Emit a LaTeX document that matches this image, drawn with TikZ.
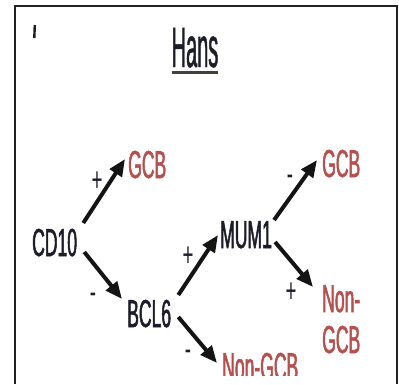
\documentclass[tikz,border=0pt]{standalone}
\usepackage{fontspec}
\usetikzlibrary{arrows.meta}
\newfontfamily\narrowf[FakeStretch=0.45,FakeBold=1.3]{Liberation Sans}
\newfontfamily\hansf[FakeStretch=0.35,FakeBold=0.8]{Liberation Sans}
\newfontfamily\signf[FakeStretch=0.55]{Liberation Sans}
\definecolor{txt}{HTML}{1C1C2A}
\definecolor{redt}{HTML}{B5504E}
\definecolor{framec}{HTML}{222222}
\begin{document}
\begin{tikzpicture}[x=1pt,y=-1pt,
  lbl/.style={inner sep=0, font=\narrowf\fontsize{39}{41}\selectfont, text=txt},
  res/.style={lbl, text=redt},
  sgn/.style={inner sep=0, font=\signf\fontsize{34}{36}\selectfont, text=txt},
  arr/.style={line width=4pt, draw=black!92, -{Triangle[length=17pt,width=14pt]}},
  frame/.style={line width=2pt, draw=framec}]
\useasboundingbox (0,0) rectangle (399,384);
% frame
\draw[frame] (15,384) -- (15,6) -- (397,6) -- (397,384);
% small fragment mark
\draw[line width=2.4pt, draw=txt] (34.8,25) -- (34.3,38);
% title
\node[inner sep=0, font=\hansf\fontsize{57}{60}\selectfont, text=txt, anchor=base] (hans) at (195,67) {Hans};
\draw[line width=3pt, draw=black!75] ([shift={(0,5.5)}]hans.base west) -- ([shift={(0,5.5)}]hans.base east);
% nodes
\node[lbl, anchor=base west] (cd10) at (32,256) {CD10};
\node[res, anchor=base west] (gcba) at (128,178) {GCB};
\node[lbl, anchor=base west] (bcl6) at (127,327) {BCL6};
\node[lbl, anchor=base west] (mum1) at (220,248) {MUM1};
\node[res, anchor=base west] (gcbb) at (322,177) {GCB};
\node[res, anchor=base west] (ngb) at (322,312) {\begin{tabular}[t]{@{}l@{}}Non-\\GCB\end{tabular}};
\begin{scope}
\clip (0,0) rectangle (399,375);
\node[res, anchor=base west] (nga) at (222,380) {Non-GCB};
\end{scope}
% arrows
\draw[arr] ([shift={(6,-33)}]cd10.base east) -- ([shift={(-3,-19)}]gcba.base west);
\draw[arr] ([shift={(7,-4)}]cd10.base east) -- ([shift={(-5,-28)}]bcl6.base west);
\draw[arr] ([shift={(7,-32)}]bcl6.base east) -- ([shift={(-2,-13)}]mum1.base west);
\draw[arr] ([shift={(7,-10)}]bcl6.base east) -- ([shift={(-5,-17)}]nga.base west);
\draw[arr] ([shift={(2,-28)}]mum1.base east) -- ([shift={(-5,-17)}]gcbb.base west);
\draw[arr] ([shift={(3,-6)}]mum1.base east) -- ([shift={(-9,-25)}]ngb.base west);
% signs
\node[sgn] (s1) at (97,182) {+};
\node[sgn] (s2) at (93,298) {-};
\node[sgn] (s3) at (188,257) {+};
\node[sgn] (s4) at (188,355) {-};
\node[sgn] (s5) at (290,180) {-};
\node[sgn] (s6) at (291,293) {+};
\end{tikzpicture}
\end{document}
